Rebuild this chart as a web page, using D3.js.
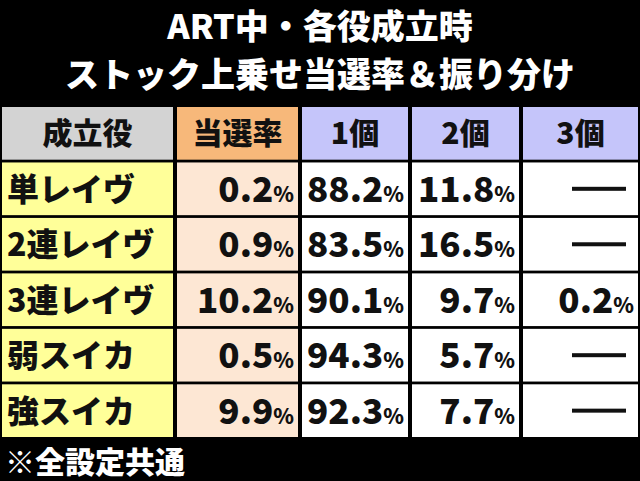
<!DOCTYPE html>
<html><head><meta charset="utf-8">
<script src="https://cdn.jsdelivr.net/npm/d3@7"></script>
<style>body{margin:0;background:#000}text{font-family:"Noto Sans CJK JP";font-weight:900}</style>
</head><body><svg id="c" width="640" height="481"></svg>
<script>
// data
var titleLines = ["ART中・各役成立時", "ストック上乗せ当選率＆振り分け"];
var headers = ["成立役", "当選率", "1個", "2個", "3個"];
var roles = ["単レイヴ", "2連レイヴ", "3連レイヴ", "弱スイカ", "強スイカ"];
var winRate = [0.2, 0.9, 10.2, 0.5, 9.9];
var one = [88.2, 83.5, 90.1, 94.3, 92.3];
var two = [11.8, 16.5, 9.7, 5.7, 7.7];
var three = [null, null, 0.2, null, null];
var note = "※全設定共通";

var svg = d3.select("#c");
svg.append("rect").attr("width", 640).attr("height", 481).attr("fill", "#000");

svg.selectAll(".title").data(titleLines).enter().append("text")
  .attr("x", 320).attr("y", (d, i) => 39 + i * 48)
  .attr("text-anchor", "middle").attr("fill", "#fff").attr("font-size", 34)
  .text(d => d);

// column edges
var edges = [0, 175, 300, 410, 521, 640];
var x = d3.scaleOrdinal().domain(headers).range(edges.slice(0, 5));
var w = h => edges[headers.indexOf(h) + 1] - x(h) - 2;
var y = d3.scaleBand().domain(["h"].concat(roles)).range([107, 437]).paddingInner(0.05);

var headFill = ["#d3d3d3", "#f7b87a", "#c5c5fa", "#c5c5fa", "#c5c5fa"];
var bodyFill = ["#ffff99", "#fde7d4", "#fff", "#fff", "#fff"];

headers.forEach((h, i) => {
  svg.append("rect").attr("x", x(h) + 2).attr("y", y("h")).attr("width", w(h) - 2)
    .attr("height", y.bandwidth()).attr("fill", headFill[i]);
  svg.append("text").attr("x", x(h) + w(h) / 2 + 1).attr("y", y("h") + y.bandwidth() / 2 + 11)
    .attr("text-anchor", "middle").attr("font-size", 30).attr("fill", "#111").text(h);
});

var pct = (g, v, h, r) => {
  var t = g.append("text").attr("x", x(h) + w(h) - 4).attr("y", y(r) + y.bandwidth() / 2 + 13)
    .attr("text-anchor", "end").attr("fill", "#111");
  t.append("tspan").attr("font-size", 35).text(v.toFixed(1));
  t.append("tspan").attr("font-size", 21).text("%");
};

roles.forEach((r, i) => {
  headers.forEach((h, j) => {
    svg.append("rect").attr("x", x(h) + 2).attr("y", y(r)).attr("width", w(h) - 2)
      .attr("height", y.bandwidth()).attr("fill", bodyFill[j]);
  });
  svg.append("text").attr("x", 7).attr("y", y(r) + y.bandwidth() / 2 + 12)
    .attr("font-size", 32).attr("fill", "#111").text(r);
  pct(svg, winRate[i], "当選率", r);
  pct(svg, one[i], "1個", r);
  pct(svg, two[i], "2個", r);
  if (three[i] == null) {
    svg.append("rect").attr("x", 572).attr("y", y(r) + y.bandwidth() / 2 - 2)
      .attr("width", 54).attr("height", 4).attr("fill", "#111");
  } else pct(svg, three[i], "3個", r);
});

svg.append("text").attr("x", 5).attr("y", 473).attr("font-size", 30).attr("fill", "#fff").text(note);
</script></body></html>
